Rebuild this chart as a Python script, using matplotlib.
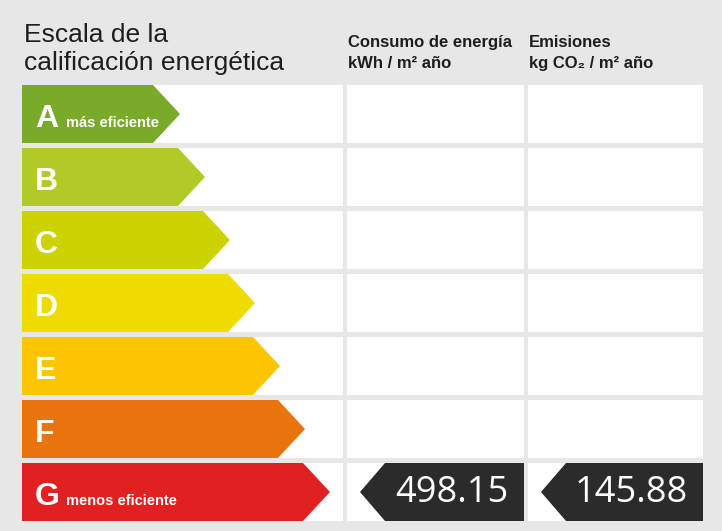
import matplotlib
matplotlib.use("Agg")
import matplotlib.pyplot as plt
from matplotlib.patches import Polygon, Rectangle

# data
ratings = ["A", "B", "C", "D", "E", "F", "G"]
sublabels = ["más eficiente", "", "", "", "", "", "menos eficiente"]
colors = ["#7aaa2a", "#b2c927", "#cdd300", "#eedb00", "#fcc500", "#e9730c", "#e22022"]
consumo = 498.15
emisiones = 145.88
building_rating = "G"
col_titles = [("Consumo de energía", "kWh / m² año"), ("Emisiones", "kg CO₂ / m² año")]

W, H = 722, 531
BG = "#e7e7e7"
TXT = "#1e1e1e"
DARK = "#2b2b2b"
SANS = ["Liberation Sans", "DejaVu Sans"]
NARROW = ["Liberation Sans Narrow", "Liberation Sans", "DejaVu Sans"]

# layout (pixels)
left, col1_right = 22, 343
cols = [(347, 524), (528, 703)]
top0, pitch, row_h = 85, 63, 58
tip0, tip_step, depth = 180, 25, 27

fig = plt.figure(figsize=(W / 100, H / 100), dpi=100, facecolor=BG)
ax = fig.add_axes([0, 0, 1, 1])
ax.set_xlim(0, W)
ax.set_ylim(H, 0)
ax.axis("off")
ax.set_facecolor(BG)

# header
ax.text(left + 2, 42, "Escala de la", fontsize=19, family=SANS, color=TXT, va="baseline")
ax.text(left + 2, 70, "calificación energética", fontsize=19, family=SANS, color=TXT, va="baseline")
for (x0, x1), (t1, t2) in zip(cols, col_titles):
    ax.text(x0 + 1, 47, t1, fontsize=12, family=NARROW, color=TXT, va="baseline", weight="bold")
    ax.text(x0 + 1, 68, t2, fontsize=12, family=NARROW, color=TXT, va="baseline", weight="bold")

values = [consumo, emisiones]
for i, (r, sub, c) in enumerate(zip(ratings, sublabels, colors)):
    y0 = top0 + i * pitch
    y1 = y0 + row_h
    ym = (y0 + y1) / 2
    # white cells
    ax.add_patch(Rectangle((left, y0), col1_right - left, row_h, fc="white", ec="none"))
    for x0, x1 in cols:
        ax.add_patch(Rectangle((x0, y0), x1 - x0, row_h, fc="white", ec="none"))
    # rating arrow
    tip = tip0 + tip_step * i
    ax.add_patch(Polygon([(left, y0), (tip - depth, y0), (tip, ym), (tip - depth, y1), (left, y1)],
                         closed=True, fc=c, ec="none"))
    ax.text(left + 13, y0 + 42, r, fontsize=23, weight="bold", family=SANS, color="white", va="baseline")
    if sub:
        ax.text(left + 44, y0 + 42, sub, fontsize=10.5, weight="bold", family=NARROW,
                color="white", va="baseline")
    # value arrows
    if r == building_rating:
        for (x0, x1), v in zip(cols, values):
            ax.add_patch(Polygon([(x0 + 13, ym), (x0 + 38, y0), (x1, y0), (x1, y1), (x0 + 38, y1)],
                                 closed=True, fc=DARK, ec="none"))
            ax.text((x0 + 38 + x1) / 2 - 3, ym + 1, f"{v:.2f}", fontsize=26, family=["Open Sans", "DejaVu Sans"],
                    color="white", ha="center", va="center")

fig.savefig("out.png", dpi=100, facecolor=BG)
